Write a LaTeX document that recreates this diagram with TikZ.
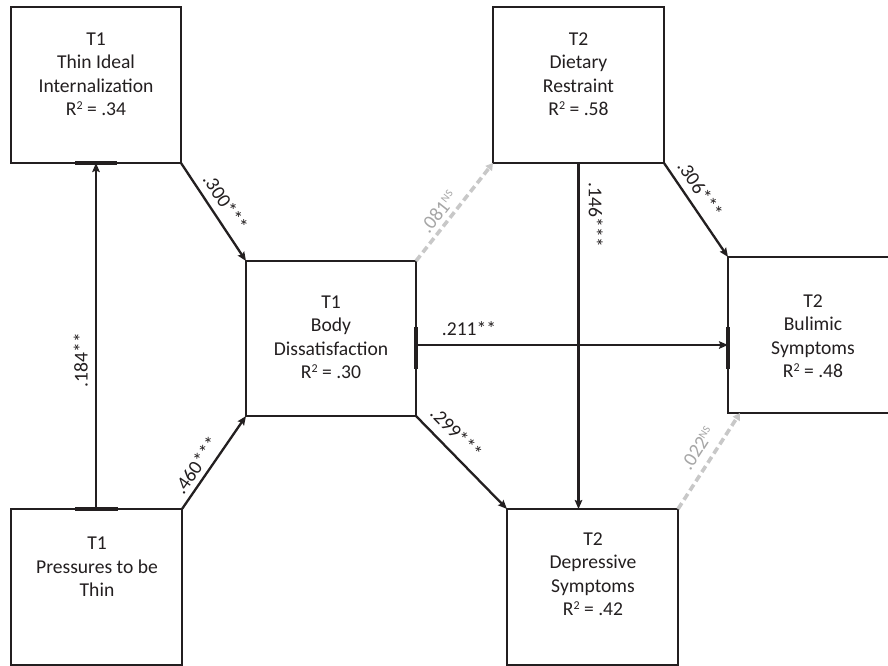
\documentclass[tikz,border=0pt]{standalone}
\usepackage{fontspec}
\setmainfont{Carlito}
\usetikzlibrary{arrows.meta,calc}
\definecolor{ink}{HTML}{231F20}
\definecolor{nsline}{HTML}{C8C8C8}
\definecolor{nstext}{HTML}{A6A6A6}
\newcommand{\rsq}{R\raisebox{6.5pt}{\fontsize{12}{12}\selectfont 2}}
\newcommand{\nsmark}{\raisebox{6pt}{\fontsize{11}{11}\selectfont NS}}
\begin{document}
\begin{tikzpicture}[x=1pt,y=-1pt,
 box/.style={draw=ink, line width=2.3pt, inner sep=0pt, outer sep=0pt},
 boxtext/.style={align=center, inner sep=0pt, anchor=north, text=ink, font=\fontsize{19.6}{23.5}\selectfont},
 arr/.style={draw=ink, line width=2.3pt, -{Stealth[length=9pt,width=7.5pt,inset=1.5pt]}},
 nsarr/.style={draw=nsline, line width=3.6pt, dash pattern=on 7pt off 4pt, -{Triangle[length=7pt,width=8pt]}},
 tickmark/.style={draw=ink, line width=4.5pt},
 lbl/.style={font=\fontsize{19.6}{19.6}\selectfont, text=ink, inner sep=7pt},
 nslbl/.style={lbl, text=nstext}]
\useasboundingbox (0,0) rectangle (888,665);
\fill[white] (0,0) rectangle (888,665);

% boxes
\node[box, minimum width=170pt, minimum height=156pt] (A) at (96,85) {};
\node[box, minimum width=171pt, minimum height=156pt] (B) at (578.5,85) {};
\node[box, minimum width=170pt, minimum height=155pt] (C) at (331,338.5) {};
\node[box, minimum width=170pt, minimum height=156pt] (D) at (813,335) {};
\node[box, minimum width=171pt, minimum height=156pt] (E) at (96.5,587) {};
\node[box, minimum width=171pt, minimum height=156pt] (F) at (592.5,587) {};

% box texts
\node[boxtext] (At) at (96,32.5) {T1\\Thin Ideal\\Internalization\\\rsq{} = .34};
\node[boxtext] (Bt) at (578.5,32.5) {T2\\Dietary\\Restraint\\\rsq{} = .58};
\node[boxtext] (Ct) at (331,295.5) {T1\\Body\\Dissatisfaction\\\rsq{} = .30};
\node[boxtext] (Dt) at (813,294.5) {T2\\Bulimic\\Symptoms\\\rsq{} = .48};
\node[boxtext] (Et) at (97,537) {T1\\Pressures to be\\Thin};
\node[boxtext] (Ft) at (593,532.5) {T2\\Depressive\\Symptoms\\\rsq{} = .42};

% coordinates
\coordinate (ch) at ($(C.east)+(0,6.5)$);
\coordinate (dn) at ($(D.south west)+(12,0)$);

% tick marks
\draw[tickmark] ($(A.south)+(-21,0)$) -- ($(A.south)+(21,0)$);
\draw[tickmark] ($(E.north)+(-21.5,0)$) -- ($(E.north)+(21,0)$);
\draw[tickmark] ($(ch)+(0,-18)$) -- ($(ch)+(0,24)$);
\draw[tickmark] ($(ch -| D.west)+(0,-18)$) -- ($(ch -| D.west)+(0,24)$);

% gray non-significant paths
\draw[nsarr] (C.north east) -- (B.south west)
  node[nslbl, sloped, above, pos=0.42, inner sep=4pt] (l081) {.081\nsmark};
\draw[nsarr] (F.north east) -- (dn)
  node[nslbl, sloped, above, pos=0.54, inner sep=8pt] (l022) {.022\nsmark};

% significant paths
\draw[arr] (E.north -| A.south) -- (A.south)
  node[lbl, sloped, above, pos=0.43] (l184) {.184**};
\draw[arr] (A.south east) -- (C.north west)
  node[lbl, sloped, above, pos=0.49] (l300) {.300***};
\draw[arr] (E.north east) -- (C.south west)
  node[lbl, sloped, above, pos=0.39, inner sep=5pt] (l460) {.460***};
\draw[arr] (B.south) -- (B.south |- F.north)
  node[lbl, sloped, above, pos=0.15, inner sep=9pt] (l146) {.146***};
\draw[arr] (B.south east) -- (D.north west)
  node[lbl, sloped, above, pos=0.37] (l306) {.306***};
\draw[arr] (ch) -- (ch -| D.west)
  node[lbl, above, pos=0.17, inner sep=8pt] (l211) {.211**};
\draw[arr] (C.south east) -- (F.north west)
  node[lbl, sloped, above, pos=0.31, inner sep=9pt] (l299) {.299***};
\end{tikzpicture}
\end{document}
